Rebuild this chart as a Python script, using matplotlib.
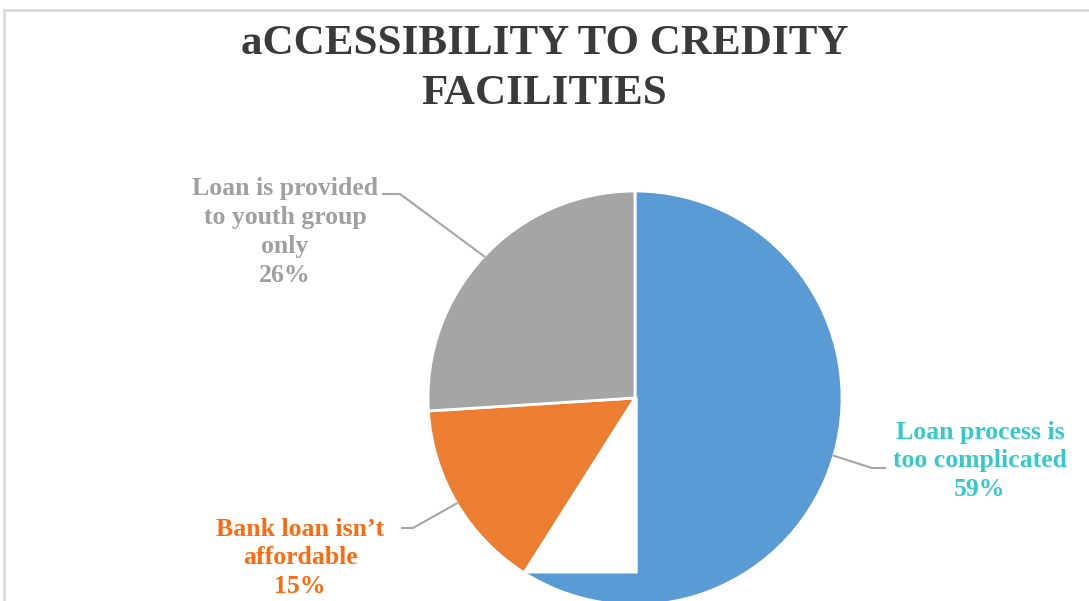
import numpy as np
import matplotlib.pyplot as plt
from matplotlib.patches import Rectangle, Polygon

# data
categories = ["Loan process is\ntoo complicated", "Bank loan isn\u2019t\naffordable",
              "Loan is provided\nto youth group\nonly"]
shares = [59, 15, 26]
slice_colors = ["#5B9BD5", "#ED7D31", "#A5A5A5"]
label_colors = ["#36C9C9", "#FF6A10", "#A0A0A0"]
title = "aCCESSIBILITY TO CREDITY\nFACILITIES"

W, H = 1089, 601
fig = plt.figure(figsize=(W / 100, H / 100), dpi=100)
ax = fig.add_axes([0, 0, 1, 1])

cx, cy, r = 635, H - 398, 207
wedges, _ = ax.pie(shares, colors=slice_colors, startangle=90, counterclock=False,
                   center=(cx, cy), radius=r, frame=True,
                   wedgeprops=dict(edgecolor="white", linewidth=2))
wedges[0].set_zorder(1)
for w in wedges[1:]:
    w.set_zorder(3)

# the source rendering left a white gap inside the big slice, next to the small one
end_ang = np.deg2rad(wedges[0].theta1)
ex, ey = cx + r * np.cos(end_ang), cy + r * np.sin(end_ang)
ax.add_patch(Polygon([(cx - 6, cy), (ex - 2, ey), (cx + 2, ey), (cx + 2, cy)], closed=True,
                     facecolor="white", edgecolor="white", zorder=2))

# labels with leader lines
label_pos = [(980, H - 461), (300, H - 558), (285, H - 232)]
elbows = [(872, H - 468), (413, H - 528), (400, H - 194)]
ends = [(885, H - 468), (402, H - 528), (383, H - 194)]
for w, txt, pct, col, lp, el, en in zip(wedges, categories, shares, label_colors,
                                         label_pos, elbows, ends):
    mid = np.deg2rad((w.theta1 + w.theta2) / 2)
    px, py = cx + r * np.cos(mid), cy + r * np.sin(mid)
    ax.plot([px, el[0], en[0]], [py, el[1], en[1]], color="#A6A6A6", lw=1.5, zorder=4)
    ax.text(lp[0], lp[1], txt + "\n" + str(pct) + "%", color=col, fontsize=18.5,
            fontweight="bold", family="Liberation Serif", ha="center", va="center",
            linespacing=1.32, zorder=5)

ax.text(W / 2, H - 69, title, color="#3A3A3A", fontsize=31, fontweight="bold",
        family="Liberation Serif", ha="center", va="center", linespacing=1.38)

# chart area border
ax.add_patch(Rectangle((4, -20), W + 40, H - 10 + 20, fill=False,
                       edgecolor="#D9D9D9", linewidth=2, zorder=0))

ax.set_xlim(0, W)
ax.set_ylim(0, H)
ax.axis("off")
fig.savefig("out.png", dpi=100)
